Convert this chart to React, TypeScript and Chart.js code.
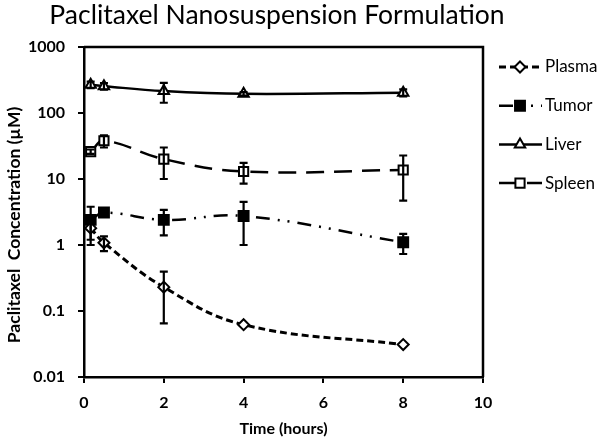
import React, { useEffect, useRef } from "react";
import { Chart, registerables } from "chart.js";

Chart.register(...registerables);

// ---- Data ----
const times = [0.167, 0.5, 2, 4, 8];
const seriesLabels = ["Plasma", "Tumor", "Liver", "Spleen"];
const plasma = [1.8, 1.08, 0.23, 0.062, 0.031];
const plasmaErr = [0.6, 0.27, 0.165, 0, 0];
const tumor = [2.4, 3.1, 2.4, 2.75, 1.1];
const tumorErr = [1.4, 0.3, 1.0, 1.75, 0.37];
const liver = [268, 255, 215, 195, 203];
const liverErr = [30, 30, 72, 12, 25];
const spleen = [26, 38, 20, 13, 13.7];
const spleenErr = [2, 8, 10, 4.5, 9];
const xTicks = [0, 2, 4, 6, 8, 10];
const yTicks = [0.01, 0.1, 1, 10, 100, 1000];
const chartTitle = "Paclitaxel Nanosuspension Formulation";
const xTitle = "Time (hours)";
const yTitle = "Paclitaxel  Concentration (\u00b5M)";

const seriesValues = [plasma, tumor, liver, spleen];
const seriesErrors = [plasmaErr, tumorErr, liverErr, spleenErr];

const FONT = "Lato, 'Open Sans', sans-serif";

type Style = {
  pointStyle: string;
  radius: number;
  fill: string;
  dash: number[];
  width: number;
};

const styles: Style[] = [
  { pointStyle: "rectRot", radius: 5.5, fill: "#fff", dash: [7, 4], width: 3 },
  { pointStyle: "rect", radius: 7, fill: "#000", dash: [14, 8, 2, 8, 2, 8], width: 2.5 },
  { pointStyle: "triangle", radius: 6, fill: "#fff", dash: [], width: 2.5 },
  { pointStyle: "rect", radius: 6.5, fill: "#fff", dash: [18, 10], width: 2.5 },
];

function drawMarker(ctx: CanvasRenderingContext2D, s: Style, x: number, y: number) {
  const r = s.radius;
  ctx.save();
  ctx.setLineDash([]);
  ctx.beginPath();
  if (s.pointStyle === "rect") {
    const h = Math.SQRT1_2 * r;
    ctx.rect(x - h, y - h, 2 * h, 2 * h);
  } else if (s.pointStyle === "rectRot") {
    ctx.moveTo(x, y - r);
    ctx.lineTo(x + r, y);
    ctx.lineTo(x, y + r);
    ctx.lineTo(x - r, y);
    ctx.closePath();
  } else {
    let a = 0;
    ctx.moveTo(x + Math.sin(a) * r, y - Math.cos(a) * r);
    a += (2 * Math.PI) / 3;
    ctx.lineTo(x + Math.sin(a) * r, y - Math.cos(a) * r);
    a += (2 * Math.PI) / 3;
    ctx.lineTo(x + Math.sin(a) * r, y - Math.cos(a) * r);
    ctx.closePath();
  }
  ctx.fillStyle = s.fill;
  ctx.fill();
  ctx.lineWidth = 2;
  ctx.strokeStyle = "#000";
  ctx.stroke();
  ctx.restore();
}

const decorPlugin = {
  id: "decor",
  beforeDatasetsDraw(chart: any) {
    const { ctx, chartArea } = chart;
    ctx.save();
    ctx.strokeStyle = "#000";
    ctx.lineWidth = 2.5;
    ctx.beginPath();
    ctx.moveTo(chartArea.left, chartArea.top);
    ctx.lineTo(chartArea.right, chartArea.top);
    ctx.lineTo(chartArea.right, chartArea.bottom);
    ctx.stroke();
    ctx.restore();
  },
  afterDatasetsDraw(chart: any) {
    const { ctx } = chart;
    const xs = chart.scales.x;
    const ys = chart.scales.y;
    ctx.save();
    ctx.strokeStyle = "#000";
    ctx.lineWidth = 2.2;
    ctx.setLineDash([]);
    chart.data.datasets.forEach((ds: any, i: number) => {
      const errs = seriesErrors[i];
      ds.data.forEach((p: any, j: number) => {
        const e = errs[j];
        if (!e) return;
        const px = xs.getPixelForValue(p.x);
        const top = ys.getPixelForValue(p.y + e);
        const bot = ys.getPixelForValue(Math.max(p.y - e, 0.0101));
        ctx.beginPath();
        ctx.moveTo(px, top);
        ctx.lineTo(px, bot);
        ctx.moveTo(px - 4, top);
        ctx.lineTo(px + 4, top);
        ctx.moveTo(px - 4, bot);
        ctx.lineTo(px + 4, bot);
        ctx.stroke();
      });
    });
    ctx.restore();
  },
  afterDraw(chart: any) {
    const { ctx } = chart;
    ctx.save();
    ctx.fillStyle = "#000";
    // title
    ctx.font = `26.5px ${FONT}`;
    ctx.textAlign = "center";
    ctx.textBaseline = "alphabetic";
    ctx.fillText(chartTitle, 277, 24);
    // y title
    ctx.save();
    ctx.translate(14, 225);
    ctx.rotate(-Math.PI / 2);
    ctx.font = `bold 17.5px ${FONT}`;
    ctx.textBaseline = "middle";
    ctx.fillText(yTitle, 0, 0);
    ctx.restore();
    // legend
    chart.data.datasets.forEach((ds: any, i: number) => {
      const s = styles[i];
      const y = 67 + i * 38.7;
      ctx.save();
      ctx.strokeStyle = "#000";
      ctx.lineWidth = s.width;
      ctx.setLineDash(s.dash);
      ctx.beginPath();
      ctx.moveTo(499, y);
      ctx.lineTo(542, y);
      ctx.stroke();
      ctx.restore();
      drawMarker(ctx, s, 520, y);
      ctx.font = `17px ${FONT}`;
      ctx.textAlign = "left";
      ctx.textBaseline = "middle";
      ctx.fillStyle = "#000";
      ctx.fillText(ds.label, 545, y);
    });
    ctx.restore();
  },
};

export default function App() {
  const ref = useRef<HTMLCanvasElement>(null);
  useEffect(() => {
    Chart.defaults.font.family = FONT;
    Chart.defaults.color = "#000";
    const datasets = seriesLabels.map((label, i) => ({
      label,
      data: times.map((t, j) => ({ x: t, y: seriesValues[i][j] })),
      borderColor: "#000",
      borderWidth: styles[i].width,
      borderDash: styles[i].dash,
      backgroundColor: styles[i].fill,
      pointStyle: styles[i].pointStyle,
      pointRadius: styles[i].radius,
      pointBorderWidth: 2,
      pointBorderColor: "#000",
      pointBackgroundColor: styles[i].fill,
      tension: 0.4,
      fill: false,
      clip: false as any,
    }));
    const chart = new Chart(ref.current!, {
      type: "line",
      data: { datasets },
      plugins: [decorPlugin],
      options: {
        responsive: false,
        animation: false,
        layout: { padding: { top: 47, right: 117, bottom: 0, left: 0 } },
        plugins: {
          legend: { display: false },
          title: { display: false },
          tooltip: { enabled: false },
        },
        scales: {
          x: {
            type: "linear",
            min: 0,
            max: 10,
            afterBuildTicks: (s: any) => {
              s.ticks = xTicks.map((v) => ({ value: v }));
            },
            afterFit: (s: any) => {
              s.height = 63;
            },
            grid: {
              drawOnChartArea: false,
              drawTicks: true,
              tickLength: 6,
              color: "#000",
              lineWidth: 2,
            },
            border: { display: true, color: "#000", width: 2.5 },
            ticks: {
              font: { size: 16, weight: "bold" },
              padding: 10,
              maxRotation: 0,
              color: "#000",
            },
            title: {
              display: true,
              text: xTitle,
              font: { size: 16, weight: "bold" },
              padding: { top: 0, bottom: 2 },
              color: "#000",
            },
          },
          y: {
            type: "logarithmic",
            min: 0.01,
            max: 1000,
            afterBuildTicks: (s: any) => {
              s.ticks = yTicks.map((v) => ({ value: v }));
            },
            afterFit: (s: any) => {
              s.width = 84;
            },
            grid: {
              drawOnChartArea: false,
              drawTicks: true,
              tickLength: 6,
              color: "#000",
              lineWidth: 2,
            },
            border: { display: true, color: "#000", width: 2.5 },
            ticks: {
              font: { size: 16, weight: "bold" },
              padding: 13,
              color: "#000",
              callback: (v: any) => String(Number(v)),
            },
          },
        },
      } as any,
    });
    return () => chart.destroy();
  }, []);
  return (
    <div style={{ position: "fixed", left: 0, top: 0, width: 600, height: 440, background: "#fff" }}>
      <canvas ref={ref} width={600} height={440} />
    </div>
  );
}
